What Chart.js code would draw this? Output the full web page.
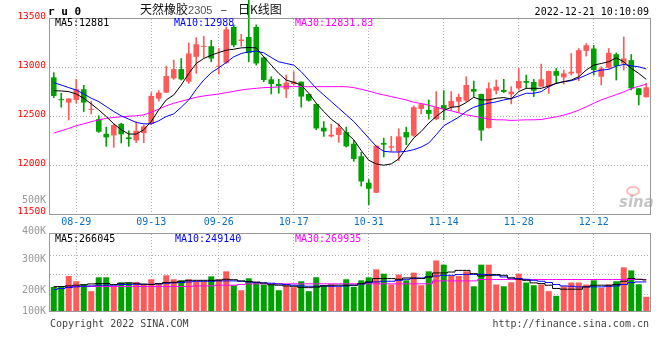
<!DOCTYPE html>
<html>
<head>
<meta charset="utf-8">
<script src="https://cdn.jsdelivr.net/npm/chart.js@4.4.0/dist/chart.umd.min.js"></script>
<style>
  body { margin: 0; background: #fff; }
  #wrap { position: relative; width: 660px; height: 360px; overflow: hidden; font-family: "DejaVu Sans Mono", monospace; }
  canvas { position: absolute; left: 0; }
  .t { position: absolute; white-space: nowrap; line-height: 1; font-size: 10px; }
</style>
</head>
<body>
<div id="wrap">
  <canvas id="kline" width="660" height="228" style="top:0"></canvas>
  <canvas id="volume" width="660" height="92" style="top:228px"></canvas>

  <div class="t" style="left:48px;top:6px;font-size:11px;font-weight:bold;">r u 0</div>
  <div class="t" style="left:140px;top:3px;font-family:'Noto Sans CJK SC';font-size:12px;color:#111;">天然橡胶<span style="font-family:'Liberation Sans';font-size:11px;color:#555;">2305</span><span style="margin:0 11px 0 8px;">–</span>日K线图</div>
  <div class="t" style="right:11px;top:7px;color:#000;">2022-12-21 10:10:09</div>

  <div class="t" style="left:55px;top:18px;color:#000;">MA5:12881</div>
  <div class="t" style="left:174px;top:18px;color:#0000ff;">MA10:12988</div>
  <div class="t" style="left:295px;top:18px;color:#ff00ff;">MA30:12831.83</div>

  <div class="t" style="left:55px;top:234px;color:#000;">MA5:266045</div>
  <div class="t" style="left:175px;top:234px;color:#0000ff;">MA10:249140</div>
  <div class="t" style="left:295px;top:234px;color:#ff00ff;">MA30:269935</div>

  <div id="volLabels"></div>

  <div class="t" style="left:50px;top:319px;color:#444;">Copyright 2022 SINA.COM</div>
  <div class="t" style="right:11px;top:319px;color:#444;">http://finance.sina.com.cn</div>
</div>

<script>
// RU2305 daily candles, 2022-08-24 .. 2022-12-21
const dates = ['08-24','08-25','08-26','08-29','08-30','08-31','09-01','09-02','09-05','09-06','09-07','09-08','09-09','09-13','09-14','09-15',
  '09-16','09-19','09-20','09-21','09-22','09-23','09-26','09-27','09-28','09-29','09-30','10-10','10-11','10-12','10-13','10-14',
  '10-17','10-18','10-19','10-20','10-21','10-24','10-25','10-26','10-27','10-28','10-31','11-01','11-02','11-03','11-04','11-07',
  '11-08','11-09','11-10','11-11','11-14','11-15','11-16','11-17','11-18','11-21','11-22','11-23','11-24','11-25','11-28','11-29',
  '11-30','12-01','12-02','12-05','12-06','12-07','12-08','12-09','12-12','12-13','12-14','12-15','12-16','12-19','12-20','12-21'];

const axisDates = ['08-29','09-13','09-26','10-17','10-31','11-14','11-28','12-12'];

const opens = [12901,12677,12643,12670,12779,12568,12473,12323,12306,12425,12286,12255,12330,12425,12684,12745,
  12891,12986,12857,13112,13214,13221,13010,13051,13418,13275,13315,13418,13105,12881,12833,12779,
  12833,12857,12731,12629,12385,12296,12310,12340,12221,12092,11820,11718,12228,12180,12143,12340,
  12303,12578,12568,12473,12616,12595,12653,12663,12782,12731,12381,12765,12772,12728,12789,12864,
  12854,12806,12806,12966,12901,12942,12942,13173,13197,12908,13000,13139,13044,13078,12789,12698];

const highs = [12949,12738,12684,12881,12820,12657,12507,12391,12425,12432,12354,12446,12412,12745,12765,13017,
  13078,13095,13255,13309,13323,13282,13197,13418,13440,13343,13700,13440,13112,12908,12881,12925,
  12959,12857,12731,12629,12449,12422,12425,12391,12255,12133,11854,12201,12279,12296,12374,12391,
  12609,12636,12670,12755,12765,12755,12731,12908,12864,12731,12847,12874,12881,12806,12993,12925,
  12881,13037,12966,12993,12976,13146,13197,13248,13231,13010,13197,13153,13316,13136,12789,12840];

const lows = [12694,12595,12466,12636,12551,12527,12337,12194,12184,12228,12194,12232,12232,12415,12657,12745,
  12881,12874,12840,12942,13105,13061,12935,13044,13214,13221,13061,13027,12857,12731,12738,12694,
  12823,12595,12657,12364,12296,12289,12235,12187,12041,11786,11596,11718,12085,12143,12048,12211,
  12296,12527,12473,12466,12466,12561,12541,12653,12704,12255,12381,12731,12745,12629,12772,12789,
  12704,12806,12738,12840,12833,12925,12867,13119,12925,12823,12993,12874,12976,12772,12619,12698];

const closes = [12711,12667,12684,12779,12643,12578,12344,12286,12412,12317,12269,12354,12398,12711,12745,12915,
  12986,12881,13146,13241,13224,13095,13020,13394,13231,13289,13150,13044,12874,12833,12813,12847,
  12857,12704,12663,12378,12347,12313,12385,12194,12065,11834,11759,12201,12211,12194,12296,12286,
  12595,12626,12527,12595,12575,12660,12701,12823,12755,12357,12789,12806,12752,12755,12864,12847,
  12765,12881,12966,12918,12942,12959,13180,13231,12976,12993,13153,13017,13095,12789,12721,12799];

const ma5 = [12765,12762,12755,12731,12687,12629,12568,12500,12425,12364,12320,12320,12364,12449,12568,12670,
  12721,12823,12942,13044,13095,13129,13156,13180,13190,13204,13207,13204,13112,13027,12942,12874,
  12850,12823,12738,12636,12551,12473,12415,12330,12262,12150,12051,12014,12000,12014,12065,12177,
  12279,12347,12432,12500,12561,12595,12602,12643,12697,12670,12670,12687,12694,12680,12755,12789,
  12789,12789,12813,12840,12857,12874,12908,12976,13027,13044,13061,13102,13061,12993,12942,12881];

const ma10 = [12847,12823,12796,12772,12731,12687,12653,12602,12551,12507,12473,12439,12425,12425,12456,12500,
  12527,12595,12670,12779,12874,12949,13000,13054,13112,13146,13163,13170,13153,13105,13061,13044,
  13027,12959,12874,12789,12721,12653,12585,12517,12449,12364,12279,12194,12143,12136,12136,12143,
  12160,12187,12228,12313,12405,12449,12493,12551,12595,12619,12636,12650,12670,12684,12711,12738,
  12738,12755,12806,12840,12857,12867,12891,12925,12959,12976,12983,13017,13034,13020,13010,12988];

const ma30 = [12330,12354,12378,12405,12425,12446,12466,12480,12490,12497,12503,12507,12517,12544,12575,12609,
  12636,12656,12677,12697,12711,12721,12731,12745,12758,12772,12782,12789,12796,12799,12803,12806,
  12806,12806,12806,12806,12806,12806,12806,12806,12796,12779,12762,12738,12721,12704,12687,12670,
  12646,12633,12616,12595,12575,12558,12537,12517,12503,12490,12473,12466,12466,12459,12463,12466,
  12466,12469,12483,12497,12514,12537,12565,12599,12636,12670,12697,12724,12752,12786,12809,12832];

const volumes = [207000,207000,300000,255000,229000,170000,289000,289000,212000,244000,244000,246000,227000,272000,232000,306000,
  272000,263000,272000,255000,255000,297000,272000,340000,221000,178000,280000,244000,227000,227000,178000,221000,
  204000,255000,170000,289000,221000,227000,207000,272000,207000,263000,289000,357000,320000,227000,312000,263000,
  329000,221000,340000,433000,397000,300000,300000,340000,212000,397000,397000,227000,212000,246000,320000,244000,
  221000,227000,170000,130000,212000,244000,244000,227000,263000,198000,227000,255000,374000,348000,229000,122000];

const volMa5 = [207000,210000,215000,221000,225000,232000,235000,235000,227000,238000,241000,238000,230000,227000,235000,244000,
  246000,255000,263000,263000,263000,263000,265000,272000,268000,258000,252000,248000,240000,225000,221000,215000,
  212000,203000,200000,205000,215000,221000,221000,221000,221000,235000,249000,278000,278000,278000,272000,283000,
  283000,278000,292000,326000,326000,334000,348000,348000,320000,300000,306000,312000,306000,283000,272000,263000,
  241000,235000,221000,193000,187000,187000,187000,207000,221000,221000,221000,227000,255000,278000,272000,266045];

const volMa10 = [184000,193000,201000,207000,212000,215000,221000,221000,221000,227000,227000,229000,229000,229000,232000,238000,
  241000,244000,249000,255000,255000,255000,258000,258000,258000,255000,249000,244000,241000,238000,232000,227000,
  221000,215000,212000,212000,215000,212000,212000,215000,221000,232000,244000,249000,255000,255000,263000,272000,
  278000,283000,292000,300000,306000,306000,312000,314000,314000,314000,312000,306000,292000,283000,278000,272000,
  263000,255000,244000,227000,215000,212000,207000,207000,207000,207000,212000,215000,227000,244000,249000,249140];

const volMa30 = [210000,210000,210000,210000,210000,210000,210000,210000,210000,210000,210000,210000,210000,210000,210000,210000,
  210000,210000,210000,215000,215000,215000,221000,221000,221000,227000,233000,233000,233000,233000,233000,233000,
  233000,233000,233000,233000,233000,233000,233000,233000,233000,233000,233000,233000,233000,233000,233000,233000,
  233000,233000,233000,258000,258000,258000,258000,258000,258000,270000,270000,270000,270000,270000,270000,270000,
  270000,270000,270000,270000,270000,270000,270000,270000,270000,270000,270000,270000,270000,270000,270000,269935];

const volAxisLabels = ['500K', '400K', '300K', '200K', '100K'];
const volGridValues = [140000, 310000, 480000];

// layout of the volume axis texts (Sina draws them at fixed spots)
const volLabelTops = [195, 226, 254, 285, 306];

const upColor = '#ff5a5a';
const downColor = '#00a000';
const gridColor = '#b4b4b4';

Chart.defaults.font.family = '"DejaVu Sans Mono", monospace';
Chart.defaults.animation = false;

volAxisLabels.forEach((txt, i) => {
    const el = document.createElement('div');
    el.className = 't';
    el.style.right = '614px';
    el.style.top = volLabelTops[i] + 'px';
    el.style.color = '#999';
    el.textContent = txt;
    document.getElementById('volLabels').appendChild(el);
});

function candleColor(ctx) {
    const i = ctx.dataIndex;
    return closes[i] >= opens[i] ? upColor : downColor;
}

function showDate(index) {
    return axisDates.includes(dates[index]);
}

// gray frame around the plot area + sina watermark
const framePlugin = {
    id: 'frame',
    beforeDatasetsDraw(chart, args, opts) {
        if (!opts.watermark) return;
        const { ctx, chartArea: a } = chart;
        ctx.save();
        ctx.strokeStyle = 'rgba(255,110,110,0.45)';
        ctx.lineWidth = 2;
        ctx.beginPath();
        ctx.ellipse(a.right - 17, a.bottom - 23, 6, 4, 0, 0, Math.PI * 2);
        ctx.stroke();
        ctx.font = 'italic bold 15px "DejaVu Sans"';
        ctx.fillStyle = 'rgba(150,150,150,0.55)';
        ctx.fillText('sina', a.right - 31, a.bottom - 7);
        ctx.restore();
    },
    afterDraw(chart) {
        const { ctx, chartArea: a } = chart;
        ctx.save();
        ctx.strokeStyle = '#999';
        ctx.lineWidth = 1;
        ctx.strokeRect(Math.round(a.left) - 0.5, Math.round(a.top) - 0.5, Math.round(a.width) + 1, Math.round(a.height) + 1);
        ctx.restore();
    }
};

function maLine(label, data, color, stepped) {
    return {
        type: 'line',
        label: label,
        data: data,
        borderColor: color,
        borderWidth: 1,
        pointRadius: 0,
        tension: 0,
        stepped: stepped || false,
        order: 1
    };
}

const xGrid = {
    offset: false,
    drawTicks: false,
    color: ctx => (ctx.tick && showDate(ctx.index)) ? gridColor : 'rgba(0,0,0,0)'
};

// price chart
new Chart(document.getElementById('kline'), {
    type: 'bar',
    data: {
        labels: dates,
        datasets: [
            maLine('MA5', ma5, '#000000'),
            maLine('MA10', ma10, '#0000ff'),
            maLine('MA30', ma30, '#ff00ff'),
            {
                label: 'body',
                data: dates.map((d, i) => [opens[i], closes[i]]),
                backgroundColor: candleColor,
                categoryPercentage: 1,
                barPercentage: 0.75,
                grouped: false,
                order: 2
            },
            {
                label: 'wick',
                data: dates.map((d, i) => [lows[i], highs[i]]),
                backgroundColor: candleColor,
                barThickness: 1,
                grouped: false,
                clip: false,
                order: 3
            }
        ]
    },
    options: {
        responsive: false,
        devicePixelRatio: 1,
        layout: { padding: { top: 19, right: 10, left: 0, bottom: 0 } },
        plugins: { legend: { display: false }, tooltip: { enabled: false }, frame: { watermark: true } },
        scales: {
            x: {
                offset: true,
                grid: xGrid,
                border: { display: false, dash: [1, 2] },
                ticks: {
                    autoSkip: false,
                    maxRotation: 0,
                    padding: 2,
                    color: '#0a70c8',
                    font: { size: 10 },
                    callback: (v, i) => showDate(i) ? dates[i] : ''
                },
                afterFit: s => { s.height = 14; }
            },
            y: {
                min: 11500,
                max: 13500,
                grid: {
                    drawTicks: false,
                    color: ctx => (ctx.tick.value === 11500 || ctx.tick.value === 13500) ? 'rgba(0,0,0,0)' : gridColor
                },
                border: { display: false, dash: [1, 2] },
                ticks: {
                    stepSize: 500,
                    padding: 4,
                    labelOffset: -2,
                    color: '#ff0000',
                    font: { size: 9.5 },
                    callback: v => String(v)
                },
                afterFit: s => { s.width = 50; }
            }
        }
    },
    plugins: [framePlugin]
});

// volume chart
new Chart(document.getElementById('volume'), {
    type: 'bar',
    data: {
        labels: dates,
        datasets: [
            maLine('MA5', volMa5, '#000000', 'middle'),
            maLine('MA10', volMa10, '#0000ff', 'middle'),
            maLine('MA30', volMa30, '#ff00ff', 'middle'),
            {
                label: 'volume',
                data: volumes,
                backgroundColor: candleColor,
                categoryPercentage: 1,
                barPercentage: 0.8,
                order: 2
            }
        ]
    },
    options: {
        responsive: false,
        devicePixelRatio: 1,
        layout: { padding: { top: 6, right: 10, left: 0, bottom: 9 } },
        plugins: { legend: { display: false }, tooltip: { enabled: false }, frame: { watermark: false } },
        scales: {
            x: {
                offset: true,
                grid: xGrid,
                border: { display: false, dash: [1, 2] },
                ticks: { display: false },
                afterFit: s => { s.height = 0; }
            },
            y: {
                min: 0,
                max: 660000,
                afterBuildTicks: s => { s.ticks = volGridValues.map(v => ({ value: v })); },
                grid: { drawTicks: false, color: gridColor },
                border: { display: false, dash: [1, 2] },
                ticks: { display: false },
                afterFit: s => { s.width = 50; }
            }
        }
    },
    plugins: [framePlugin]
});
</script>
</body>
</html>
